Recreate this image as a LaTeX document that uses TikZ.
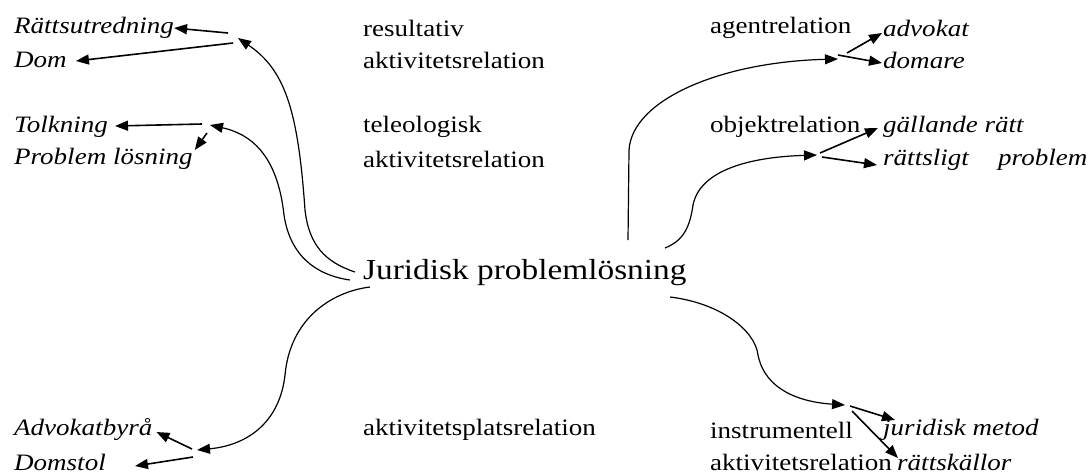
\documentclass[tikz,border=0pt]{standalone}
\usepackage{fontspec}
\setmainfont{Liberation Serif}[FakeStretch=1.15]
\usetikzlibrary{positioning,arrows.meta,calc}

\begin{document}
\begin{tikzpicture}[x=1pt,y=-1pt,>={Triangle[length=13pt,width=10pt]},
	word/.style={anchor=west,inner sep=0pt,font=\fontsize{23.5}{28}\selectfont},
	term/.style={word,font=\fontsize{23.5}{28}\selectfont\itshape},
	link/.style={->,line width=1.6pt,shorten >=0pt},
	bow/.style={->,line width=1.2pt}]
	\useasboundingbox (0,0) rectangle (1091,475);
	\node[word,font=\fontsize{29}{34}\selectfont] (jur) at (363,273) {Juridisk problemlösning};
	
	\node[term] (ratt) at (14,28) {Rättsutredning};
	\node[term] (dom) at (14,60) {Dom};
	\node[word] (res) at (363,28) {resultativ};
	\node[word] (akt1) at (363,60) {aktivitetsrelation};
	\coordinate (h1) at (238,38);
	\draw[bow] (355,272) .. controls (325,262) and (309,245) .. (305,210) .. controls (298,110) and (285,70) .. (h1);
	\draw[link] ($(h1)+(-10,-5)$) -- (ratt.east);
	\draw[link] ($(h1)+(-5,5)$) -- ($(dom.east)+(9,1)$);
	
	\node[term] (tolk) at (14,127) {Tolkning};
	\node[term] (problos) at (14,159) {Problem lösning};
	\node[word] (tel) at (363,127) {teleologisk};
	\node[word] (akt2) at (363,159) {aktivitetsrelation};
	\coordinate (h2) at (210,125);
	\draw[bow] (350,280) .. controls (315,275) and (290,255) .. (284,215) .. controls (278,160) and (255,135) .. (h2);
	\draw[link] ($(h2)+(-8,-1)$) -- ($(tolk.east)+(7,-1)$);
	\draw[link] ($(h2)+(-3,8)$) -- ($(problos.east)+(2,-9)$);
	
	\node[word] (agent) at (710,28) {agentrelation};
	\node[term] (adv) at (883,28) {advokat};
	\node[term] (domare) at (883,60) {domare};
	\coordinate (h3) at (838,59);
	\draw[bow] (628,240) -- (629,150) .. controls (632,100) and (720,62) .. (h3);
	\draw[link] ($(h3)+(9,-6)$) -- ($(adv.west)+(-1,5)$);
	\draw[link] ($(h3)+(0,-4)$) -- ($(domare.west)+(-1,3)$);
	
	\node[word] (objekt) at (710,127) {objektrelation};
	\node[term] (gall) at (883,127) {gällande rätt};
	\node[term] (rattsl) at (883,160) {\makebox[115pt][l]{rättsligt}problem};
	\coordinate (h4) at (817,155);
	\draw[bow] (665,248) .. controls (685,240) and (690,225) .. (693,205) .. controls (700,170) and (750,157) .. (h4);
	\draw[link] ($(h4)+(3,-2)$) -- ($(gall.west)+(-5,1)$);
	\draw[link] ($(h4)+(5,2)$) -- ($(rattsl.west)+(-6,5)$);
	
	\node[term] (advbyra) at (14,430) {Advokatbyrå};
	\node[term] (domstol) at (14,462) {Domstol};
	\node[word] (plats) at (363,430) {aktivitetsplatsrelation};
	\coordinate (h5) at (197,450);
	\draw[bow] (370,287) .. controls (330,292) and (290,320) .. (285,375) .. controls (280,420) and (250,445) .. (h5);
	\draw[link] ($(h5)+(-5,-1)$) -- ($(advbyra.east)+(4,2)$);
	\draw[link] ($(h5)+(-4,7)$) -- ($(domstol.east)+(29,4)$);
	
	\node[word] (instr) at (710,430) {instrumentell};
	\node[term] (jurmet) at (883,430) {juridisk metod};
	\node[word] (akt3) at (710,462) {aktivitetsrelation};
	\node[term] (kallor) at (897,462) {rättskällor};
	\coordinate (h6) at (845,405);
	\draw[bow] (670,297) .. controls (720,303) and (755,330) .. (758,355) .. controls (765,390) and (800,402) .. (h6);
	\draw[link] ($(h6)+(5,1)$) -- ($(jurmet.west)+(12,-10)$);
	\draw[link] ($(h6)+(7,6)$) -- ($(kallor.west)+(1,-4)$);
\end{tikzpicture}
\end{document}
